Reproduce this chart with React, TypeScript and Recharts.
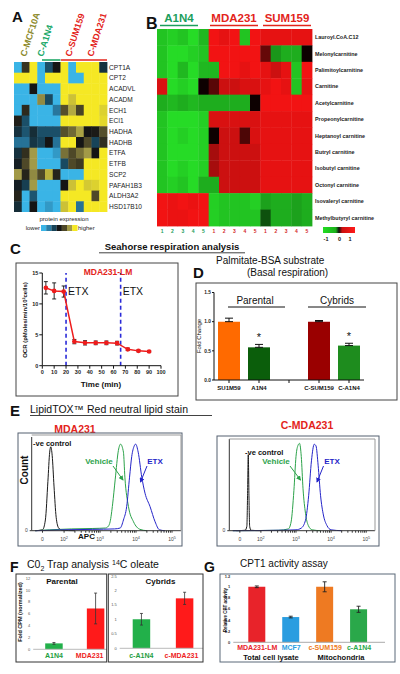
import React from 'react'
import {
  ScatterChart, Scatter, LineChart, Line, BarChart, Bar, Cell, XAxis, YAxis,
  ErrorBar, ReferenceLine, LabelList,
} from 'recharts'

const FONT = '"Liberation Sans", Arial, sans-serif'
const RED = '#e3241b'
const TEAL = '#1c9e5c'

// ---------- A: protein expression heatmap (-3 = lower/blue ... 3 = higher/yellow)
const protRows = ['CPT1A', 'CPT2', 'ACADVL', 'ACADM', 'ECH1', 'ECI1', 'HADHA', 'HADHB', 'ETFA', 'ETFB', 'SCP2', 'PAFAH1B3', 'ALDH3A2', 'HSD17B10']
const protGroups = ['C-MCF10A', 'C-A1N4', 'C-SUM159', 'C-MDA231']
const protValues = [
  [-3, 0.6, 3, -3, -1.2, 0, 3, -3, 3, 3, 3, -0.6],
  [3, 3, 3, -3, 3, 3, 3, -3, -3, 3, 3, 3],
  [-3, -3, 0, -3, -3, -3, 3, 3, 3, 3, 3, 3],
  [-3, -3, -3, 1.8, -1.1, -3, 3, 2.5, 3, 3, 3, 3],
  [-3, 0.4, -3, -3, -3, -1.9, 1.1, 2.2, 0.9, 3, 3, 2.7],
  [0.2, -1.2, -3, -3, -3, -3, 3, 3, 3, 3, 3, 2.8],
  [-0.6, -1.3, -0.5, -1.2, -1.2, -1.2, 1.1, 1.4, 2.1, 0, 0.1, 1.1],
  [-1.8, -1.8, -0.7, -1, 0, -1.8, 3, 3, 0, 1, -1, 0.5],
  [-0.6, 0.5, 2, -3, -3, -2.5, 1.5, 1, 1.5, 2, 0, 3],
  [-0.2, 1, 2, -3, -3, -3, -1.1, 1, 0.7, 3, 3, 3],
  [2, 0.3, 1.8, 1, 2.3, 0.3, -3, -3, -3, 3, 3, 3],
  [-0.2, -0.9, 2, -3, -3, -3, 0, 2.5, 3, 2.6, 2.7, 3],
  [0.3, -3, -1.3, -3, -3, -3, 3, 3, 3, 3, 1, 3],
  [-0.5, -3, 0, -3, -2.5, -3, 2.5, 3, -1.8, 3, 3, 3],
]
const protLegendSteps = [-3, -2, -1, 0, 1, 2, 3]

// ---------- B: acylcarnitine heatmap (-1 green, 0 black, 1 red)
const metRows = ['Lauroyl.CoA.C12', 'Melonylcarnitine', 'Palimitoylcarnitine', 'Carnitine', 'Acetylcarnitine', 'Propeonylcarnitine', 'Heptanoyl carnitine', 'Butryl carnitine', 'Isobutyl carnitine', 'Octonyl carnitine', 'Isovaleryl carnitine', 'Methylbutyryl carnitine']
const metGroups = ['A1N4', 'MDA231', 'SUM159']
const metReps = ['1', '2', '3', '4', '5']
const metValues = [
  [-0.85, -0.9, -0.85, -0.95, -0.8, 0.95, 0.9, 0.95, -0.85, 0.95, 0.9, 0.9, 0.9, 0.9, 0.9],
  [-0.85, -0.95, -0.95, -0.9, -0.85, 0.95, 0.95, 0.95, 0.95, 0.95, 0.4, -0.65, -0.75, -0.75, 0.05],
  [-0.85, -0.95, -0.8, -0.95, -0.8, -0.8, 0.95, 0.95, 0.9, 0.95, 0.9, 0.8, 0.9, -0.85, 0.95],
  [0.85, -0.95, -0.9, -0.95, 0.05, 0.35, 0.8, 0.8, 0.85, 0.85, 0.9, 0.95, 0.9, -0.85, 0.9],
  [-0.75, -0.8, -0.75, -0.8, -0.75, -0.75, -0.75, -0.75, -0.75, 0.05, 0.95, 0.95, 0.95, 0.95, 0.95],
  [-0.85, -0.95, -0.95, -0.95, -0.9, 0.85, 0.85, 0.85, 0.85, 0.85, 0.9, 0.9, 0.9, 0.9, 0.9],
  [-0.85, -0.95, -0.9, -0.95, -0.9, 0.05, 0.8, 0.8, 0.3, 0.85, 0.9, 0.9, 0.9, 0.9, 0.9],
  [-0.85, -0.95, -0.95, -0.95, -0.9, 0.65, 0.8, 0.8, 0.8, 0.8, 0.9, 0.9, 0.9, 0.9, 0.9],
  [-0.85, -0.95, -0.9, -0.95, -0.9, 0.65, 0.8, 0.8, 0.8, 0.8, 0.9, 0.9, 0.9, 0.9, 0.9],
  [-0.85, -0.9, -0.85, -0.95, -0.75, -0.75, 0.8, 0.8, 0.8, 0.8, 0.9, 0.9, 0.9, 0.9, 0.9],
  [0.95, 0.92, 0.95, 0.92, 0.95, -0.9, -0.85, -0.85, -0.85, -0.9, -0.7, -0.75, -0.75, -0.7, -0.75],
  [0.95, 0.92, 0.92, 0.95, 0.95, -0.9, -0.85, -0.85, -0.85, -0.85, -0.35, -0.75, -0.75, -0.7, -0.75],
]

// ---------- C: seahorse OCR
const ocrTime = [3, 10, 18, 27, 36, 45, 54, 63, 72, 81, 90]
const ocrValue = [12.6, 12.1, 12.0, 3.9, 3.7, 3.7, 3.7, 3.65, 2.65, 2.4, 2.3]
const ocrErr = [1.0, 1.3, 0.9, 0.35, 0.35, 0.3, 0.3, 0.3, 0.2, 0.15, 0.15]
const etxTimes = [20, 66]

// ---------- D: palmitate-BSA basal respiration
const dLabels = ['SU1M59', 'A1N4', '', 'C-SUM159', 'C-A1N4']
const dFold = [1.0, 0.56, null, 1.0, 0.59]
const dErr = [0.06, 0.05, null, 0.02, 0.04]
const dStar = ['', '*', '', '', '*']
const dColors = ['#ff6a00', '#0b5e0b', '#ffffff', '#9a0000', '#1e8c1e']

// ---------- E: flow histograms, x in decades (10^x), count in % of max
const apcMajor = [1.4, 2, 3, 4, 5]
const apcLabels = ['0', '2', '3', '4', '5']
const mdaNeg = [[1.2, 0], [1.4, 1], [1.48, 12], [1.55, 55], [1.6, 88], [1.63, 94], [1.67, 84], [1.72, 50], [1.78, 15], [1.85, 3], [1.95, 0.5], [2.3, 0]]
const mdaVehicle = [[1.2, 0], [1.6, 1], [2.2, 2], [2.8, 2.5], [3.15, 3], [3.23, 5], [3.28, 10], [3.35, 30], [3.42, 57], [3.51, 90], [3.57, 97], [3.65, 88], [3.69, 60], [3.79, 27], [3.93, 10], [4.11, 1.5], [4.3, 0]]
const mdaEtx = [[1.2, 0], [2.0, 1], [2.8, 1.5], [3.4, 2], [3.56, 3], [3.65, 12], [3.74, 27], [3.82, 60], [3.88, 83], [3.95, 95], [3.99, 97], [4.06, 88], [4.16, 60], [4.25, 42], [4.39, 27], [4.53, 10], [4.65, 1], [4.8, 0]]
const cmdaNeg = [[1.3, 0], [1.55, 0.5], [1.6, 5], [1.62, 40], [1.64, 87], [1.66, 40], [1.68, 5], [1.72, 0.5], [2.0, 0]]
const cmdaVehicle = [[1.2, 0], [2.5, 0.5], [2.78, 2], [2.86, 10], [2.94, 46], [3.0, 85], [3.06, 98], [3.1, 100], [3.15, 85], [3.2, 48], [3.27, 20], [3.35, 6], [3.46, 1], [3.7, 0]]
const cmdaEtx = [[1.2, 0], [2.5, 0.5], [3.0, 1], [3.15, 3], [3.27, 12], [3.36, 40], [3.44, 80], [3.52, 99], [3.57, 97], [3.63, 75], [3.7, 40], [3.78, 18], [3.88, 6], [4.0, 1], [4.3, 0]]

// ---------- F: CO2 trap
const fParentalCats = ['A1N4', 'MDA231']
const fParentalVal = [1.0, 6.9]
const fParentalErr = [0.15, 2.6]
const fCybridCats = ['c-A1N4', 'c-MDA231']
const fCybridVal = [1.0, 1.72]
const fCybridErr = [0.2, 0.21]

// ---------- G: CPT1 activity
const gCats = ['MDA231-LM', 'MCF7', 'c-SUM159', 'c-A1N4']
const gVal = [1.0, 0.455, 1.0, 0.595]
const gErr = [0.015, 0.015, 0.09, 0.055]
const gColors = ['#e8232a', '#2a9de0', '#ee7a22', '#2aa84a']

const protStops: [number, string][] = [[-3, '#3ab4e6'], [-2, '#2a7da6'], [-1, '#174459'], [0, '#151515'], [1, '#4e4828'], [2, '#a29a48'], [3, '#f5e824']]
const metStops: [number, string][] = [[-1, '#28e628'], [0, '#000000'], [1, '#ff1414']]

function rgb(h: string) {
  const n = parseInt(h.slice(1), 16)
  return [(n >> 16) & 255, (n >> 8) & 255, n & 255]
}
function ramp(stops: [number, string][], v: number) {
  if (v <= stops[0][0]) return stops[0][1]
  for (let i = 1; i < stops.length; i++) {
    if (v <= stops[i][0]) {
      const t = (v - stops[i - 1][0]) / (stops[i][0] - stops[i - 1][0])
      const a = rgb(stops[i - 1][1]), b = rgb(stops[i][1])
      return `rgb(${a.map((x, k) => Math.round(x + (b[k] - x) * t)).join(',')})`
    }
  }
  return stops[stops.length - 1][1]
}

const protCells = protValues.flatMap((row, r) => row.map((v, c) => ({ c, r, v })))
const metCells = metValues.flatMap((row, r) => row.map((v, c) => ({ c, r, v })))
const ocrData = ocrTime.map((t, i) => ({ t, ocr: ocrValue[i], err: ocrErr[i] }))
const dData = dLabels.map((name, i) => ({ name, fold: dFold[i], err: dErr[i] == null ? undefined : [0, dErr[i]], star: dStar[i] }))
const toPts = (arr: number[][]) => arr.map(([x, n]) => ({ x, n }))
const apcMinor = [2, 3, 4].flatMap(d => [2, 3, 4, 5, 6, 7, 8, 9].map(k => d + Math.log10(k)))
const apcTicks = [...apcMajor, ...apcMinor].sort((a, b) => a - b)
const fPar = fParentalCats.map((name, i) => ({ name, v: fParentalVal[i], e: fParentalErr[i] }))
const fCyb = fCybridCats.map((name, i) => ({ name, v: fCybridVal[i], e: fCybridErr[i] }))
const gData = gCats.map((name, i) => ({ name, v: gVal[i], e: gErr[i] }))

const At = ({ x, y, w, h, clip, children }: any) => (
  <div style={{ position: 'absolute', left: x, top: y, width: w, height: h, overflow: clip ? 'hidden' : 'visible' }}>{children}</div>
)

const cellShape = (w: number, h: number, stops: [number, string][]) => (p: any) => (
  <rect x={p.cx - w / 2} y={p.cy - h / 2} width={w + 0.4} height={h + 0.4} fill={ramp(stops, p.payload.v)} />
)

const RowTick = (labels: string[], size: number, bold: boolean) => (p: any) => (
  <text x={p.x} y={p.y} dy={size * 0.36} fontSize={size} fontWeight={bold ? 'bold' : 'normal'} fill="#222" fontFamily={FONT}>
    {labels[p.payload.value]}
  </text>
)

const RepTick = (p: any) => {
  const i = p.payload.value
  return (
    <text x={p.x} y={p.y + 6.5} textAnchor="middle" fontSize={5} fontWeight="bold" fill={i < 5 ? TEAL : '#d42a2a'} fontFamily={FONT}>
      {metReps[i % 5]}
    </text>
  )
}

const ColorTick = (colors: string[], size: number, dy: number, dx: number[] = []) => (p: any) => (
  <text x={p.x + (dx[p.index] ?? 0)} y={p.y + dy} textAnchor="middle" fontSize={size} fontWeight="bold" fill={colors[p.index]} fontFamily={FONT}>
    {p.payload.value}
  </text>
)

const ApcTick = (p: any) => {
  const k = apcMajor.indexOf(p.payload.value)
  if (k < 0) return null
  return (
    <text x={p.x} y={p.y + 6} textAnchor="middle" fontSize={5} fill="#444" fontFamily={FONT}>
      {k === 0 ? '0' : <>10<tspan dy={-2} fontSize={3.8}>{apcLabels[k]}</tspan></>}
    </text>
  )
}

const EtxLabel = (p: any) => (
  <text x={p.viewBox.x + 2} y={p.viewBox.y + 22} fontSize={10.5} fill="#111" fontFamily={FONT}>ETX</text>
)

const tickSmall = { fontSize: 5.5, fontWeight: 'bold', fill: '#222', fontFamily: FONT }

function Histogram({ neg, veh, etx, w, h, top, yw }: any) {
  return (
    <LineChart width={w} height={h} margin={{ top, right: 0, left: 0, bottom: 0 }}>
      <XAxis dataKey="x" type="number" domain={[1.1, 5.25]} allowDataOverflow ticks={apcTicks} interval={0}
        tick={<ApcTick />} tickSize={2} stroke="#333" height={15.3} />
      <YAxis type="number" domain={[0, 105]} ticks={[0]} width={yw} tick={{ fontSize: 5, fill: '#444' }} tickSize={2} stroke="#333" />
      <Line data={toPts(neg)} dataKey="n" type="monotone" stroke="#1a1a1a" strokeWidth={1} dot={false} isAnimationActive={false} />
      <Line data={toPts(veh)} dataKey="n" type="monotone" stroke="#2ca24a" strokeWidth={1} dot={false} isAnimationActive={false} />
      <Line data={toPts(etx)} dataKey="n" type="monotone" stroke="#2424c8" strokeWidth={1} dot={false} isAnimationActive={false} />
    </LineChart>
  )
}

export default function App() {
  const t = (x: number, y: number, s: string, o: any = {}) => (
    <text x={x} y={y} fontFamily={FONT} fontSize={o.size ?? 10} fontWeight={o.bold ? 'bold' : 'normal'} fill={o.fill ?? '#111'}
      textAnchor={o.anchor ?? 'start'} transform={o.rot ? `rotate(${o.rot} ${x} ${y})` : undefined}>{s}</text>
  )
  const ln = (x1: number, y1: number, x2: number, y2: number, c = '#111', w = 1, m?: string) => (
    <line x1={x1} y1={y1} x2={x2} y2={y2} stroke={c} strokeWidth={w} markerEnd={m ? `url(#${m})` : undefined} />
  )
  const box = (x: number, y: number, w: number, h: number, c = '#444') => (
    <rect x={x} y={y} width={w} height={h} fill="none" stroke={c} strokeWidth={1} />
  )
  const protColX = [26, 43, 71, 93]
  const protColColor = ['#8c8a2c', '#20a868', RED, RED]

  return (
    <div style={{ position: 'absolute', left: 0, top: 0, width: 400, height: 674, background: '#fff', overflow: 'hidden', fontFamily: FONT }}>
      {/* A */}
      <At x={14} y={62}>
        <ScatterChart width={143} height={150} margin={{ top: 0, right: 0, bottom: 0, left: 0 }}>
          <XAxis dataKey="c" type="number" domain={[-0.5, 11.5]} hide />
          <YAxis dataKey="r" type="number" domain={[-0.5, 13.5]} reversed orientation="right" width={50}
            ticks={protRows.map((_, i) => i)} interval={0} axisLine={false} tickLine={false} tickSize={0} tickMargin={2}
            tick={RowTick(protRows, 6.6, false)} />
          <Scatter data={protCells} shape={cellShape(93 / 12, 150 / 14, protStops)} isAnimationActive={false} />
        </ScatterChart>
      </At>

      {/* B */}
      <At x={157} y={29}>
        <ScatterChart width={243} height={215} margin={{ top: 0, right: 0, bottom: 0, left: 0 }}>
          <XAxis dataKey="c" type="number" domain={[-0.5, 14.5]} ticks={metValues[0].map((_, i) => i)} interval={0}
            axisLine={false} tickLine={false} tickSize={0} tickMargin={0} height={18} tick={<RepTick />} />
          <YAxis dataKey="r" type="number" domain={[-0.5, 11.5]} reversed orientation="right" width={88}
            ticks={metRows.map((_, i) => i)} interval={0} axisLine={false} tickLine={false} tickSize={0} tickMargin={3}
            tick={RowTick(metRows, 5.4, true)} />
          <Scatter data={metCells} shape={cellShape(155 / 15, 197 / 12, metStops)} isAnimationActive={false} />
        </ScatterChart>
      </At>

      {/* C */}
      <At x={16} y={263}>
        <LineChart width={162} height={133} data={ocrData} margin={{ top: 10, right: 17, left: 0, bottom: 0 }}>
          <XAxis dataKey="t" type="number" domain={[0, 100]} ticks={[0, 10, 20, 30, 40, 50, 60, 70, 80, 90, 100]} interval={0}
            height={30.3} tick={tickSmall} tickSize={3} tickMargin={1} stroke="#111" />
          <YAxis type="number" domain={[0, 15]} ticks={[0, 5, 10, 15]} width={26.3} tick={tickSmall} tickSize={3} tickMargin={1} stroke="#111" />
          {etxTimes.map(x => (
            <ReferenceLine key={x} x={x} stroke="#2a2ad8" strokeWidth={1.6} strokeDasharray="4 3" label={<EtxLabel />} />
          ))}
          <Line dataKey="ocr" stroke="#ee1c1c" strokeWidth={1.5} dot={{ r: 1.6, fill: '#ee1c1c', stroke: '#ee1c1c' }} isAnimationActive={false}>
            <ErrorBar dataKey="err" width={2} stroke="#111" strokeWidth={0.9} />
          </Line>
        </LineChart>
      </At>

      {/* D */}
      <At x={196} y={283}>
        <BarChart width={201} height={117} data={dData} margin={{ top: 9.5, right: 33, left: 0, bottom: 5 }} barCategoryGap={4}>
          <XAxis dataKey="name" height={15} tickSize={3} tickMargin={0} stroke="#111" interval={0}
            tick={ColorTick(['#111', '#111', '#111', '#111', '#111'], 6, 6.5)} />
          <YAxis type="number" domain={[0, 1.5]} ticks={[0, 0.5, 1, 1.5]} width={18} tickFormatter={(v: number) => v.toFixed(1)}
            tick={{ ...tickSmall, fontSize: 4.8 }} tickSize={2} tickMargin={1} stroke="#111" />
          <Bar dataKey="fold" barSize={22} isAnimationActive={false}>
            {dData.map((_, i) => <Cell key={i} fill={dColors[i]} />)}
            <ErrorBar dataKey="err" width={4} stroke="#111" strokeWidth={1} />
            <LabelList dataKey="star" position="top" offset={6} style={{ fontSize: 11, fill: '#111', fontFamily: FONT }} />
          </Bar>
        </BarChart>
      </At>

      {/* E */}
      <At x={18} y={434}>
        <Histogram neg={mdaNeg} veh={mdaVehicle} etx={mdaEtx} w={163} h={112} top={3} yw={13.7} />
      </At>
      <At x={217} y={437}>
        <Histogram neg={cmdaNeg} veh={cmdaVehicle} etx={cmdaEtx} w={158} h={109} top={2} yw={12.3} />
      </At>

      {/* F */}
      <At x={16} y={574} w={90.7} h={88} clip>
        <BarChart width={100.5} height={88} data={fPar} margin={{ top: 4.3, right: 0, left: 0, bottom: 0 }}>
          <XAxis dataKey="name" height={12.7} tickSize={0} tickMargin={0} stroke="#bbb" interval={0}
            tick={ColorTick(['#1f9e3f', '#ee1c1c'], 7, 8.5, [0, -6])} />
          <YAxis type="number" domain={[0, 12]} ticks={[0, 2, 4, 6, 8, 10, 12]} width={17.2} axisLine={false} tickLine={false}
            tick={{ fontSize: 4, fill: '#555' }} tickMargin={1} tickSize={2} />
          <Bar dataKey="v" barSize={17.5} isAnimationActive={false}>
            {fPar.map((_, i) => <Cell key={i} fill={i === 0 ? '#22b04a' : '#ff1a1a'} />)}
            <ErrorBar dataKey="e" width={1.5} stroke="#333" strokeWidth={0.8} />
          </Bar>
        </BarChart>
      </At>
      <At x={108.3} y={574} w={94.7} h={88} clip>
        <BarChart width={98} height={88} data={fCyb} margin={{ top: 1.7, right: 0, left: 0, bottom: 0 }}>
          <XAxis dataKey="name" height={13.7} tickSize={0} tickMargin={0} stroke="#bbb" interval={0}
            tick={ColorTick(['#1f9e3f', '#ee1c1c'], 7, 9.5, [0, -3])} />
          <YAxis type="number" domain={[0, 2.5]} ticks={[0, 0.5, 1, 1.5, 2, 2.5]} width={11.7} axisLine={false} tickLine={false}
            tick={{ fontSize: 4, fill: '#555' }} tickMargin={1} tickSize={2} />
          <Bar dataKey="v" barSize={17.5} isAnimationActive={false}>
            {fCyb.map((_, i) => <Cell key={i} fill={i === 0 ? '#22b04a' : '#ff1a1a'} />)}
            <ErrorBar dataKey="e" width={1.5} stroke="#333" strokeWidth={0.8} />
          </Bar>
        </BarChart>
      </At>

      {/* G */}
      <At x={220} y={574}>
        <BarChart width={175} height={88} data={gData} margin={{ top: 1.7, right: 10, left: 0, bottom: 0 }}>
          <XAxis dataKey="name" height={19.7} tickSize={0} tickMargin={0} stroke="#aaa" interval={0} padding={{ left: 7, right: 9 }}
            tick={ColorTick(gColors, 7, 8)} />
          <YAxis type="number" domain={[0, 1.2]} ticks={[0, 0.2, 0.4, 0.6, 0.8, 1, 1.2]} width={13.3} axisLine={false} tickLine={false}
            tick={{ fontSize: 4, fill: '#333', fontWeight: 'bold' }} tickMargin={1} tickSize={2} />
          <Bar dataKey="v" barSize={17} isAnimationActive={false}>
            {gData.map((_, i) => <Cell key={i} fill={gColors[i]} />)}
            <ErrorBar dataKey="e" width={2} stroke="#222" strokeWidth={0.9} />
          </Bar>
        </BarChart>
      </At>

      <svg width={400} height={674} style={{ position: 'absolute', left: 0, top: 0, pointerEvents: 'none' }}>
        <defs>
          <marker id="ag" viewBox="0 0 6 6" refX="5" refY="3" markerWidth="5" markerHeight="5" orient="auto">
            <path d="M0,0 L6,3 L0,6 z" fill="#2ca24a" />
          </marker>
          <marker id="ab" viewBox="0 0 6 6" refX="5" refY="3" markerWidth="5" markerHeight="5" orient="auto">
            <path d="M0,0 L6,3 L0,6 z" fill="#2424c8" />
          </marker>
          <linearGradient id="metbar" x1="0" x2="1" y1="0" y2="0">
            <stop offset="0" stopColor="#22dd22" />
            <stop offset="0.4" stopColor="#1cb01c" />
            <stop offset="0.5" stopColor="#111" />
            <stop offset="0.6" stopColor="#cc1010" />
            <stop offset="1" stopColor="#ff1a1a" />
          </linearGradient>
        </defs>

        {/* A labels */}
        {t(12, 22, 'A', { size: 15, bold: true })}
        {protGroups.map((g, i) => <g key={g}>{t(protColX[i], 57, g, { size: 9, bold: true, fill: protColColor[i], rot: -72 })}</g>)}
        {ln(42, 60, 60.5, 60, '#20a868', 1.6)}
        {ln(61, 60, 107, 60, RED, 1.6)}
        {t(64, 221, 'protein expression', { size: 6, anchor: 'middle', fill: '#222' })}
        {t(40, 230, 'lower', { size: 6, anchor: 'end', fill: '#222' })}
        {protLegendSteps.map((v, i) => <rect key={v} x={41 + i * 5.2} y={225} width={5.3} height={6} fill={ramp(protStops, v)} />)}
        {t(78, 230, 'higher', { size: 6, fill: '#222' })}

        {/* B labels */}
        {t(146, 29, 'B', { size: 16, bold: true })}
        {t(179, 22, metGroups[0], { size: 11.5, bold: true, fill: TEAL, anchor: 'middle' })}
        {ln(160, 25.5, 198, 25.5, TEAL, 1.5)}
        {t(234, 22, metGroups[1], { size: 11.5, bold: true, fill: RED, anchor: 'middle' })}
        {ln(210, 25.5, 258, 25.5, RED, 1.5)}
        {t(287, 22, metGroups[2], { size: 11.5, bold: true, fill: RED, anchor: 'middle' })}
        {ln(263, 25.5, 311, 25.5, RED, 1.5)}
        <rect x={323} y={227} width={32} height={6} fill="url(#metbar)" />
        {t(326, 241, '-1', { size: 5.5, bold: true, anchor: 'middle' })}
        {t(339.5, 241, '0', { size: 5.5, bold: true, anchor: 'middle' })}
        {t(350, 241, '1', { size: 5.5, bold: true, anchor: 'middle' })}

        {/* C labels */}
        {t(10, 254, 'C', { size: 15, bold: true })}
        {t(172, 250, 'Seahorse respiration analysis', { size: 9.5, bold: true, anchor: 'middle' })}
        {ln(99, 252.8, 245, 252.8, '#111', 0.8)}
        {box(16, 263, 162, 133)}
        {t(108, 275, 'MDA231-LM', { size: 8.5, bold: true, fill: RED, anchor: 'middle' })}
        {t(27, 320, 'OCR (pMoles/min/10³cells)', { size: 6, bold: true, anchor: 'middle', rot: -90 })}
        {t(101, 387, 'Time (min)', { size: 8, bold: true, anchor: 'middle' })}

        {/* D labels */}
        {t(193, 278, 'D', { size: 15, bold: true })}
        {t(216, 264, 'Palmitate-BSA substrate', { size: 10 })}
        {t(247, 276, '(Basal respiration)', { size: 10 })}
        {box(196, 283, 201, 117)}
        {t(255, 304, 'Parental', { size: 10, anchor: 'middle' })}
        {ln(228, 307, 285, 307, '#111', 1)}
        {t(337, 304, 'Cybrids', { size: 10, anchor: 'middle' })}
        {ln(308, 307, 366, 307, '#111', 1)}
        {t(201, 336, 'Fold Change', { size: 6, anchor: 'middle', rot: -90 })}

        {/* E labels */}
        {t(10, 416, 'E', { size: 15, bold: true })}
        {t(30, 413, 'LipidTOX™ Red neutral  lipid stain', { size: 10.5 })}
        {ln(30, 415.5, 212, 415.5, '#111', 0.8)}
        {t(75, 433, 'MDA231', { size: 10.5, bold: true, fill: RED, anchor: 'middle' })}
        {t(307, 429, 'C-MDA231', { size: 10.5, bold: true, fill: RED, anchor: 'middle' })}
        {box(18, 433, 164, 113, '#556070')}
        {box(217, 436, 162, 110, '#556070')}
        {ln(31.7, 435, 181, 435, '#999', 1)}
        {ln(181, 435, 181, 530.7, '#999', 1)}
        {ln(229.3, 439, 375, 439, '#999', 1)}
        {ln(375, 439, 375, 530.7, '#999', 1)}
        {t(33, 446, '-ve control', { size: 7.5, bold: true })}
        {t(245, 455, '-ve control', { size: 7.5, bold: true })}
        {t(99, 464, 'Vehicle', { size: 8, bold: true, fill: '#2ca24a', anchor: 'middle' })}
        {t(276, 464, 'Vehicle', { size: 8, bold: true, fill: '#2ca24a', anchor: 'middle' })}
        {t(155, 464, 'ETX', { size: 8, bold: true, fill: '#2424c8', anchor: 'middle' })}
        {t(332, 464, 'ETX', { size: 8, bold: true, fill: '#2424c8', anchor: 'middle' })}
        {ln(113, 466, 123, 480, '#2ca24a', 1, 'ag')}
        {ln(147, 466, 140.5, 482, '#2424c8', 1, 'ab')}
        {ln(290, 466, 300.5, 480, '#2ca24a', 1, 'ag')}
        {ln(323.5, 466, 317, 482, '#2424c8', 1, 'ab')}
        {t(28, 470, 'Count', { size: 10, bold: true, anchor: 'middle', rot: -90 })}
        {t(86.5, 538.5, 'APC', { size: 8, bold: true, anchor: 'middle' })}

        {/* F labels */}
        {t(10, 572, 'F', { size: 14, bold: true })}
        <text x={27} y={568} fontFamily={FONT} fontSize={10.5} fill="#111">
          C0<tspan dy={2.5} fontSize={7}>2</tspan><tspan dy={-2.5}> Trap analysis  </tspan>
          <tspan dy={-3.5} fontSize={7}>14</tspan><tspan dy={3.5}>C oleate</tspan>
        </text>
        {box(16, 574, 90.7, 88, '#333')}
        {box(108.3, 574, 94.7, 88, '#333')}
        {t(62, 584, 'Parental', { size: 8, bold: true, anchor: 'middle' })}
        {t(160.5, 584, 'Cybrids', { size: 8, bold: true, anchor: 'middle' })}
        {t(21.5, 612, 'Fold CPM (normalized)', { size: 5.5, bold: true, anchor: 'middle', rot: -90 })}

        {/* G labels */}
        {t(204, 572, 'G', { size: 14, bold: true })}
        {t(240, 567, 'CPT1 activity assay', { size: 10 })}
        {box(220, 574, 175, 88, '#5a6878')}
        {t(226.5, 610, 'Relative CPT activity', { size: 4.5, bold: true, anchor: 'middle', rot: -90 })}
        {t(271, 660, 'Total cell lysate', { size: 7.5, bold: true, anchor: 'middle' })}
        {t(341, 660, 'Mitochondria', { size: 7.5, bold: true, anchor: 'middle' })}
      </svg>
    </div>
  )
}
